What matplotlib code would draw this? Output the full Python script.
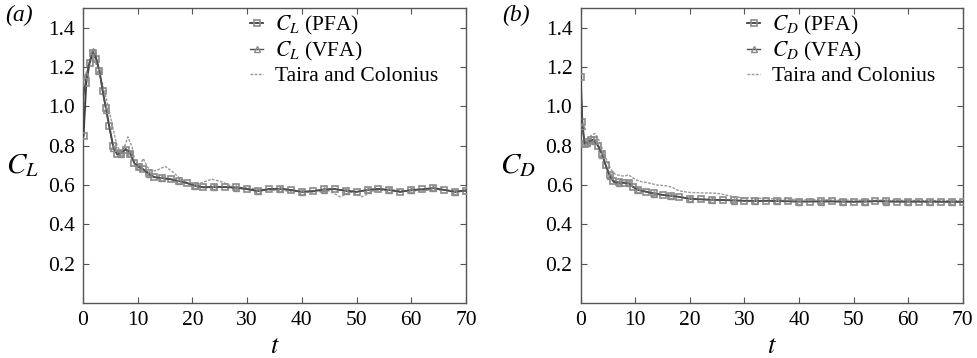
import matplotlib
matplotlib.use("Agg")
import matplotlib.pyplot as plt
import numpy as np

# ─── Datos ────────────────────────────────────────────────────────
t_cl = [0.1, 0.6, 1.2, 1.8, 2.4, 3.0, 3.6, 4.2, 4.8, 5.5, 6.2, 7.0, 7.8, 8.6,
        9.4, 10.2, 11.0, 12.0, 13.0, 14.5, 16.0, 17.5, 19.0, 20.5, 22.0, 24.0,
        26.0, 28.0, 30.0, 32.0, 34.0, 36.0, 38.0, 40.0, 42.0, 44.0, 46.0, 48.0,
        50.0, 52.0, 54.0, 56.0, 58.0, 60.0, 62.0, 64.0, 66.0, 68.0, 70.0]
cl_pfa = [0.85, 1.12, 1.22, 1.27, 1.24, 1.18, 1.08, 0.99, 0.90, 0.80, 0.76,
          0.765, 0.78, 0.76, 0.71, 0.69, 0.68, 0.66, 0.64, 0.635, 0.63, 0.62,
          0.61, 0.595, 0.588, 0.59, 0.59, 0.588, 0.58, 0.57, 0.58, 0.58, 0.575,
          0.565, 0.568, 0.578, 0.58, 0.57, 0.565, 0.575, 0.58, 0.575, 0.565,
          0.575, 0.578, 0.585, 0.575, 0.565, 0.572]
cl_vfa = [1.05, 1.16, 1.23, 1.28, 1.25, 1.18, 1.07, 0.98, 0.89, 0.79, 0.755,
          0.76, 0.785, 0.765, 0.71, 0.695, 0.68, 0.655, 0.64, 0.635, 0.628, 0.62,
          0.61, 0.595, 0.59, 0.59, 0.588, 0.585, 0.578, 0.568, 0.578, 0.582, 0.575,
          0.565, 0.57, 0.576, 0.578, 0.572, 0.566, 0.575, 0.58, 0.574, 0.566,
          0.575, 0.578, 0.583, 0.576, 0.566, 0.573]

t_cl_tc = [0.0, 0.5, 1.0, 1.6, 2.2, 3.0, 3.8, 4.6, 5.4, 6.2, 6.8, 7.4, 8.2,
           9.0, 9.6, 10.3, 11.0, 11.8, 12.6, 13.5, 15.0, 16.5, 18.0, 20.0, 21.5,
           23.5, 25.5, 27.5, 30.0, 34.0, 38.0, 42.0, 45.0, 47.0, 49.0, 51.0,
           53.0, 56.0, 60.0, 65.0, 70.0]
cl_tc = [0.80, 1.10, 1.20, 1.25, 1.23, 1.17, 1.09, 1.00, 0.90, 0.80, 0.77,
         0.78, 0.845, 0.79, 0.70, 0.69, 0.735, 0.69, 0.67, 0.675, 0.695, 0.665,
         0.625, 0.60, 0.61, 0.63, 0.615, 0.59, 0.585, 0.575, 0.568, 0.565, 0.57,
         0.54, 0.565, 0.54, 0.57, 0.575, 0.57, 0.575, 0.57]

t_cd = [0.0, 0.3, 0.7, 1.2, 1.8, 2.5, 3.2, 3.9, 4.6, 5.3, 6.0, 7.0, 8.0, 8.8,
        9.6, 10.5, 12.0, 13.5, 15.0, 16.5, 18.0, 20.0, 22.0, 24.0, 26.0, 28.0,
        30.0, 32.0, 34.0, 36.0, 38.0, 40.0, 42.0, 44.0, 46.0, 48.0, 50.0, 52.0,
        54.0, 56.0, 58.0, 60.0, 62.0, 64.0, 66.0, 68.0, 70.0]
cd_pfa = [1.15, 0.92, 0.81, 0.82, 0.83, 0.83, 0.80, 0.76, 0.70, 0.65, 0.62,
          0.613, 0.612, 0.61, 0.59, 0.576, 0.566, 0.557, 0.55, 0.546, 0.54,
          0.53, 0.527, 0.525, 0.524, 0.522, 0.52, 0.519, 0.52, 0.519, 0.517,
          0.516, 0.516, 0.517, 0.517, 0.516, 0.515, 0.516, 0.518, 0.517, 0.516,
          0.516, 0.516, 0.516, 0.515, 0.515, 0.515]
cd_vfa = [1.10, 0.90, 0.81, 0.815, 0.825, 0.825, 0.795, 0.755, 0.695, 0.645,
          0.615, 0.61, 0.61, 0.608, 0.59, 0.575, 0.565, 0.556, 0.549, 0.545,
          0.54, 0.53, 0.527, 0.525, 0.523, 0.521, 0.52, 0.519, 0.519, 0.518,
          0.517, 0.516, 0.516, 0.516, 0.516, 0.515, 0.515, 0.516, 0.517, 0.516,
          0.515, 0.515, 0.515, 0.515, 0.515, 0.514, 0.514]

t_cd_tc = [0.0, 0.3, 0.7, 1.3, 2.0, 2.6, 3.3, 4.0, 4.7, 5.5, 6.3, 7.2, 8.0,
           8.7, 9.4, 10.2, 11.0, 12.5, 14.0, 16.0, 17.0, 18.0, 20.0, 22.5, 25.0,
           26.5, 28.0, 30.0, 35.0, 40.0, 50.0, 60.0, 70.0]
cd_tc = [1.10, 0.90, 0.82, 0.83, 0.855, 0.862, 0.83, 0.78, 0.73, 0.68, 0.655,
         0.648, 0.645, 0.652, 0.64, 0.625, 0.618, 0.61, 0.60, 0.595, 0.585, 0.57,
         0.562, 0.56, 0.558, 0.55, 0.54, 0.535, 0.53, 0.526, 0.523, 0.522, 0.52]

# ─── Estilo ───────────────────────────────────────────────────────
plt.rcParams["font.family"] = "Liberation Serif"
plt.rcParams["mathtext.fontset"] = "stix"

fig = plt.figure(figsize=(9.78, 3.58), dpi=100)
ax1 = fig.add_axes([0.0849, 0.1536, 0.3916, 0.824])
ax2 = fig.add_axes([0.5938, 0.1536, 0.3906, 0.824])

paneles = [
    (ax1, t_cl, cl_pfa, cl_vfa, t_cl_tc, cl_tc, "L", -0.157),
    (ax2, t_cd, cd_pfa, cd_vfa, t_cd_tc, cd_tc, "D", -0.165),
]

for ax, t, pfa, vfa, ttc, tc, sub, xlab in paneles:
    ax.plot(ttc, tc, color="#9a9a9a", lw=1.0, ls=(0, (2, 1)),
            label="Taira and Colonius", zorder=2)
    ax.plot(t, pfa, color="#404040", lw=1.3, marker="s", ms=4.5,
            mfc="none", mec="#8a8a8a", mew=1.2, markevery=(0, 1),
            label=rf"$C_{sub}$ (PFA)", zorder=3)
    ax.plot(t, vfa, color="#505050", lw=1.0, marker="^", ms=4.5,
            mfc="none", mec="#8a8a8a", mew=1.0, markevery=(1, 2),
            label=rf"$C_{sub}$ (VFA)", zorder=3)

    ax.set_xlim(0, 70)
    ax.set_ylim(0, 1.5)
    ax.set_xticks(np.arange(0, 71, 10))
    ax.set_yticks([0.2, 0.4, 0.6, 0.8, 1.0, 1.2, 1.4])
    ax.set_yticklabels(["0.2", "0.4", "0.6", "0.8", "1.0", "1.2", "1.4"])
    ax.tick_params(direction="in", top=True, right=True, length=4,
                   width=0.8, color="#555555", labelsize=15.5, pad=6)
    for s in ax.spines.values():
        s.set_color("#555555")
        s.set_linewidth(1.0)

    ax.set_xlabel(r"$t$", fontsize=19, labelpad=4)
    ax.set_ylabel(rf"$C_{sub}$", fontsize=21, rotation=0, va="center", ha="center")
    ax.yaxis.set_label_coords(xlab, 0.464)

    h, l = ax.get_legend_handles_labels()
    ax.legend([h[1], h[2], h[0]], [l[1], l[2], l[0]], loc="upper left",
              bbox_to_anchor=(0.414, 1.01), frameon=False, fontsize=15.5,
              handlelength=0.6, handletextpad=0.55, labelspacing=0.15,
              borderaxespad=0.0)

fig.text(0.005, 0.94, "(a)", fontsize=17, style="italic")
fig.text(0.513, 0.94, "(b)", fontsize=17, style="italic")

fig.savefig("out.png", dpi=100)
